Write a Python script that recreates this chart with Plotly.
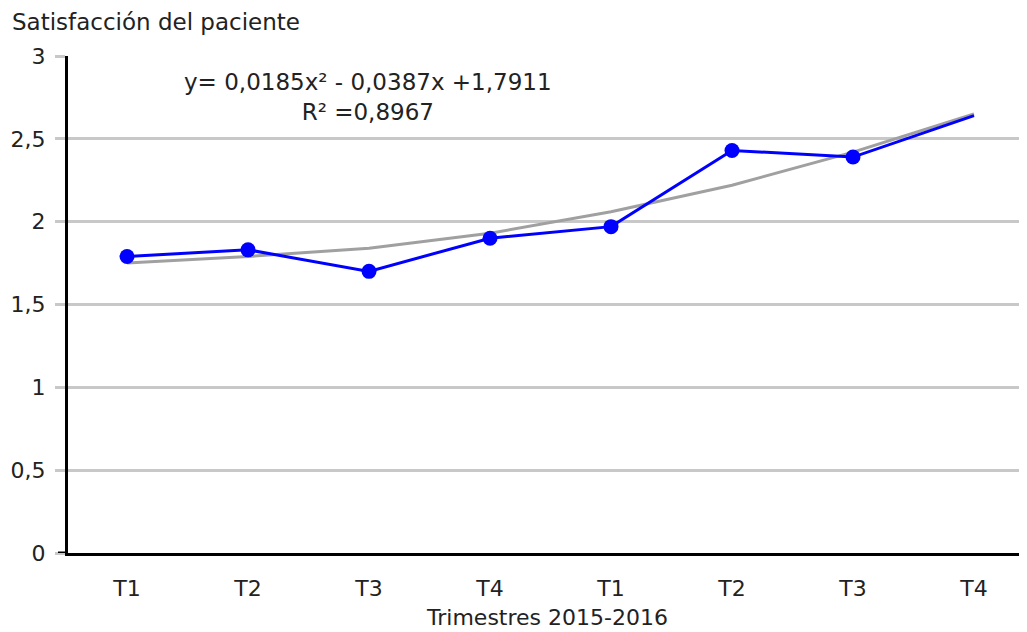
import plotly.graph_objects as go

x_pos = [1, 2, 3, 4, 5, 6, 7, 8]
x_labels = ["T1", "T2", "T3", "T4", "T1", "T2", "T3", "T4"]
satisfaccion = [1.79, 1.83, 1.70, 1.90, 1.97, 2.43, 2.39, 2.64]
tendencia = [1.75, 1.79, 1.84, 1.93, 2.06, 2.22, 2.42, 2.65]
marker_sizes = [15, 15, 15, 15, 15, 15, 15, 0]

FONT = "DejaVu Sans"
W, H = 1019, 624  # page has 8px body margin
L, T, B = 60, 48, 79
PW = W - L

fig = go.Figure()
fig.add_trace(go.Scatter(
    x=x_pos, y=tendencia, mode="lines",
    line=dict(color="#a0a0a0", width=3),
    showlegend=False, hoverinfo="skip"))
fig.add_trace(go.Scatter(
    x=x_pos, y=satisfaccion, mode="lines+markers",
    line=dict(color="#0000ff", width=3),
    marker=dict(color="#0000ff", size=marker_sizes, symbol="circle",
                opacity=1, line=dict(width=0)),
    showlegend=False))

fig.update_layout(
    width=W, height=H,
    margin=dict(l=L, r=0, t=T, b=B, autoexpand=False),
    paper_bgcolor="white", plot_bgcolor="white",
    separators=", ",
    font=dict(family=FONT, size=22, color="#222222"),
    xaxis=dict(
        tickmode="array", tickvals=x_pos, ticktext=x_labels,
        range=[0.512, 8.438], showgrid=False, zeroline=False,
        showline=True, linecolor="black", linewidth=3,
        ticks="", ticklabelstandoff=14, automargin=False,
        title=dict(text="Trimestres 2015-2016", font=dict(size=22), standoff=10),
    ),
    yaxis=dict(
        range=[0, 3], dtick=0.5, showgrid=True, gridcolor="#c8c8c8", gridwidth=3,
        zeroline=False, showline=True, linecolor="black", linewidth=3,
        ticks="outside", ticklen=10, tickcolor="#c8c8c8", tickwidth=3,
        ticklabelstandoff=5, automargin=False,
    ),
    annotations=[
        dict(text="Satisfacción del paciente", xref="paper", yref="paper",
             x=-(L - 2) / PW, y=1.0, yshift=34, xanchor="left", yanchor="middle",
             showarrow=False, font=dict(size=23, family=FONT)),
        dict(text="y= 0,0185x² - 0,0387x +1,7911<br>R² =0,8967", xref="paper", yref="paper",
             x=(368 - 68) / PW, y=1.0, yshift=-41, xanchor="center", yanchor="middle",
             showarrow=False, align="center", font=dict(size=23, family=FONT)),
    ],
    shapes=[
        dict(type="line", xref="paper", yref="y", x0=-10 / PW, x1=0, y0=0, y1=0,
             line=dict(color="black", width=3)),
    ],
)

fig.write_html("out.html")
